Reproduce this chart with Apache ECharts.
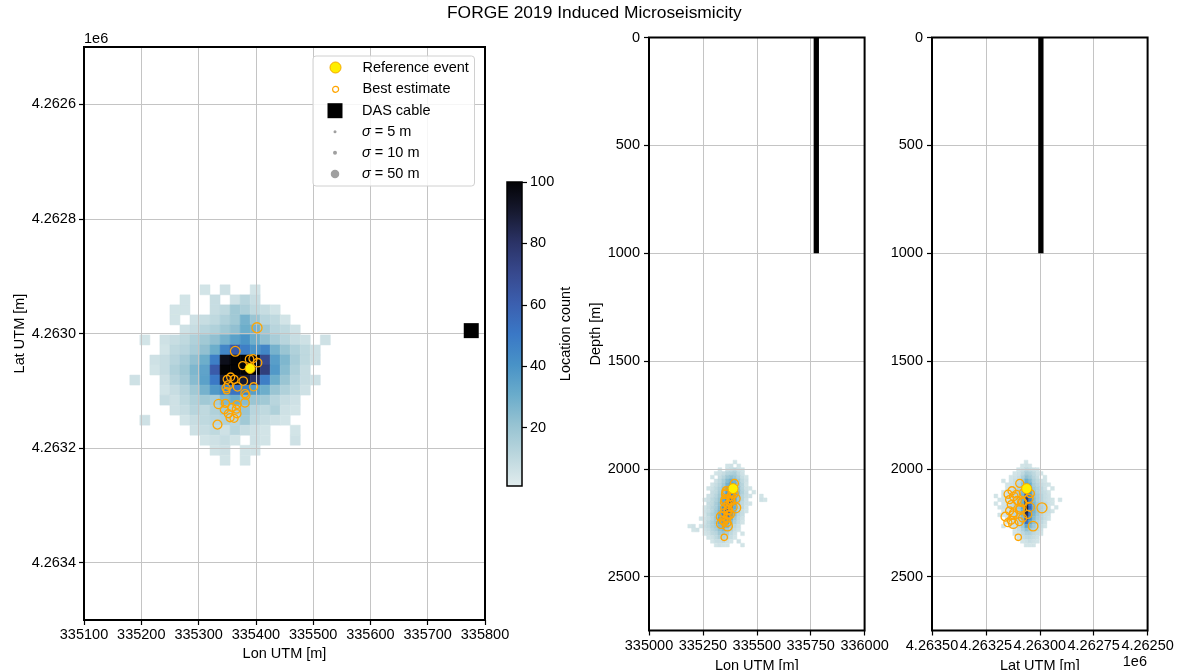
<!DOCTYPE html>
<html>
<head>
<meta charset="utf-8">
<title>FORGE 2019 Induced Microseismicity</title>
<script src="https://cdn.jsdelivr.net/npm/echarts@6/dist/echarts.min.js"></script>
<style>
  html, body { margin: 0; padding: 0; background: #ffffff; }
  #chart { width: 1179px; height: 670px; }
</style>
</head>
<body>
<div id="chart"></div>
<script>
// ---------------------------------------------------------------------------
// Data
// ---------------------------------------------------------------------------
const FONT = '"Liberation Sans", Arial, Helvetica, sans-serif';

// colour scale for location counts: pale -> blue -> black
const cmapColors = ['#e1eced', '#bcd7de', '#97c3d2', '#6aaccb', '#4892c7', '#3a78c6',
                    '#3b5faf', '#37498e', '#2b3367', '#171a31', '#030305'];
const countRange = [1, 100];
const colorbarTicks = [20, 40, 60, 80, 100];

// histogram bin size [m]
const binSize = 17.5;

// plan view (lon / lat) location counts; rows step in latitude, columns in longitude
const planLon0 = 335180;
const planLat0 = 4262915;
const planCounts = [
  [0,0,0,0,0,0,0,5,0,6,0,0,5,0,0,0,0,0,0,0],
  [0,0,0,0,0,5,0,0,8,0,6,12,8,0,0,0,0,0,0,0],
  [0,0,0,0,5,5,0,0,8,10,18,15,10,8,5,0,0,0,0,0],
  [0,0,0,0,5,0,6,8,10,14,18,28,20,12,10,5,0,0,0,0],
  [0,0,0,0,0,6,8,12,14,18,22,30,28,18,12,10,6,0,0,0],
  [0,5,0,6,8,10,14,18,22,28,35,40,30,22,16,12,8,6,0,6],
  [0,0,0,5,10,12,16,22,30,45,62,48,40,45,28,20,14,10,6,0],
  [0,0,6,8,12,16,22,30,48,95,100,100,98,70,36,26,16,10,6,0],
  [0,0,5,8,14,18,26,34,62,100,100,100,100,75,38,24,14,8,0,0],
  [6,0,0,6,12,16,24,35,50,92,96,90,80,48,30,20,12,8,6,0],
  [0,0,0,5,8,12,18,28,38,45,52,46,36,30,20,14,10,6,0,0],
  [0,0,0,8,6,10,14,18,16,26,30,24,20,18,12,8,6,0,0,0],
  [0,0,0,0,6,8,12,10,14,18,16,20,12,10,14,6,5,0,0,0],
  [0,6,0,0,0,5,8,10,12,14,12,18,10,8,6,5,0,0,0,0],
  [0,0,0,0,0,0,6,8,10,6,12,8,6,5,0,0,5,0,0,0],
  [0,0,0,0,0,0,0,5,6,8,5,0,6,5,0,0,6,0,0,0],
  [0,0,0,0,0,0,0,0,5,6,0,5,5,0,0,0,0,0,0,0],
  [0,0,0,0,0,0,0,0,0,5,0,5,0,0,0,0,0,0,0,0]
];

// depth sections: rows step in depth
const depth0 = 1960;

// lon / depth location counts; columns step in longitude
const sideLon0 = 335180;
const lonDepthCounts = [
  [0,0,0,0,0,0,0,0,0,0,0,0,5,0,0,0,0,0,0,0,0],
  [0,0,0,0,0,0,0,0,0,0,5,6,0,5,0,0,0,0,0,0,0],
  [0,0,0,0,0,0,0,0,5,0,6,8,10,6,5,0,0,0,0,0,0],
  [0,0,0,0,0,0,0,5,6,8,12,14,16,10,6,0,0,0,0,0,0],
  [0,0,0,0,0,0,5,0,8,12,18,22,20,14,8,5,0,0,0,0,0],
  [0,0,0,0,0,0,0,6,10,16,24,30,28,18,10,6,0,0,0,0,0],
  [0,0,0,0,0,0,5,8,12,18,28,36,32,20,12,5,0,0,0,0,0],
  [0,0,0,0,0,5,6,10,14,22,32,40,36,22,12,6,5,0,0,0,0],
  [0,0,0,0,0,0,8,10,16,24,36,44,38,24,14,8,0,5,0,0,0],
  [0,0,0,0,0,6,8,12,18,28,40,48,36,22,12,8,6,0,0,5,0],
  [0,0,0,0,5,6,10,14,20,32,48,56,38,20,12,6,0,0,0,6,5],
  [0,0,0,0,0,8,10,16,22,36,52,66,34,18,10,6,5,0,0,0,0],
  [0,0,0,0,5,8,12,16,24,40,58,72,30,16,10,5,0,0,0,0,0],
  [0,0,0,0,6,8,12,18,26,44,70,52,28,14,8,5,0,0,0,0,0],
  [0,0,0,0,5,10,14,18,30,46,64,40,24,12,8,0,0,0,0,0,0],
  [0,0,0,5,6,8,12,20,32,50,48,32,18,10,6,0,0,0,0,0,0],
  [0,0,0,0,6,10,14,20,30,40,36,24,14,8,5,0,0,0,0,0,0],
  [5,6,0,5,8,10,14,18,26,32,28,18,10,6,0,0,0,0,0,0,0],
  [0,5,6,0,6,8,12,16,22,26,20,14,8,5,0,0,0,0,0,0,0],
  [0,0,0,0,5,6,10,12,18,20,16,10,6,0,5,0,0,0,0,0,0],
  [0,0,0,0,0,5,6,10,14,14,12,8,5,0,0,0,0,0,0,0,0],
  [0,0,0,0,0,0,5,8,8,10,6,5,0,6,0,0,0,0,0,0,0],
  [0,0,0,0,0,0,0,5,6,5,5,0,0,0,5,0,0,0,0,0,0]
];

// lat / depth location counts; columns step in latitude
const sideLat0 = 4262880;
const latDepthCounts = [
  [0,0,0,0,0,0,0,0,0,0,5,0,0,0,0,0,0,0,0,0,0],
  [0,0,0,0,0,0,0,0,0,5,6,5,0,0,0,0,0,0,0,0,0],
  [0,0,0,0,0,0,0,5,6,8,10,6,5,0,0,0,0,0,0,0,0],
  [0,0,0,0,0,0,5,6,10,14,16,10,6,5,0,0,0,0,0,0,0],
  [0,0,0,0,0,5,0,8,12,18,22,14,8,6,5,0,0,0,0,0,0],
  [0,0,0,0,0,5,6,10,14,24,30,18,10,8,5,0,5,0,0,0,0],
  [0,0,0,0,5,6,8,12,16,30,38,22,12,8,6,5,0,0,0,0,0],
  [0,0,0,5,0,6,10,14,18,34,48,24,14,10,6,5,0,0,0,0,0],
  [0,0,0,0,5,8,10,14,20,38,58,26,16,10,8,6,5,0,0,0,0],
  [0,0,0,0,6,8,12,16,22,44,70,28,16,12,8,6,5,0,5,0,0],
  [0,5,0,5,6,8,12,16,24,48,80,30,18,12,8,6,5,5,0,0,0],
  [0,0,0,5,6,10,12,18,26,52,86,30,18,12,10,6,5,0,5,0,0],
  [0,0,5,0,6,10,14,18,28,54,90,32,20,14,10,8,6,5,0,0,0],
  [0,0,0,5,8,10,14,20,28,52,88,30,18,12,10,6,5,0,0,0,0],
  [0,0,0,0,6,8,12,18,26,48,82,28,16,12,8,6,5,5,0,0,0],
  [0,0,0,0,5,8,12,16,24,42,72,26,14,10,8,5,0,0,0,0,0],
  [0,0,0,0,0,6,10,14,22,34,54,22,12,8,6,5,0,0,0,0,0],
  [0,0,0,0,0,5,8,12,18,26,34,18,10,6,5,0,5,0,0,0,0],
  [0,0,0,0,0,0,6,10,14,18,22,14,8,5,0,0,0,0,0,0,0],
  [0,0,0,0,0,0,5,8,10,14,14,10,6,5,0,0,0,0,0,0,0],
  [0,0,0,0,0,0,0,6,8,10,10,8,5,0,0,0,0,0,0,0,0],
  [0,0,0,0,0,0,0,5,6,8,6,5,0,0,0,0,0,0,0,0,0],
  [0,0,0,0,0,0,0,0,5,5,5,0,0,0,0,0,0,0,0,0,0]
];

// reference event
const refLon = 335390, refLat = 4263061, refDepth = 2092;

// best-estimate locations and their uncertainty sigma [m]
const estLon   = [335402,335364,335389,335395,335403,335377,335356,335350,335362,335378,
                  335368,335352,335349,335396,335381,335383,335335,335347,335367,335381,
                  335345,335358,335366,335352,335367,335355,335362,335333,335348];
const estLat   = [4262990,4263031,4263045,4263044,4263051,4263056,4263076,4263080,4263080,4263083,
                  4263093,4263090,4263100,4263093,4263105,4263108,4263123,4263122,4263124,4263121,
                  4263133,4263129,4263132,4263140,4263140,4263147,4263148,4263159,4263095];
const estDepth = [2181,2266,2178,2115,2138,2212,2112,2155,2228,2155,
                  2190,2182,2318,2068,2147,2118,2255,2205,2214,2128,
                  2238,2102,2166,2143,2195,2118,2250,2222,2245];
const estSigma = [70,65,50,45,50,45,45,45,45,50,
                  50,50,28,45,45,40,60,45,45,50,
                  45,45,45,45,45,45,45,55,45];

// DAS cable (vertical well section)
const dasLon = 335776, dasLat = 4262995, dasTop = 0, dasBottom = 1000;

// legend reference sigmas [m]
const legendSigmas = [5, 10, 50];

// axis ticks
const planLatTicks = [4262600, 4262800, 4263000, 4263200, 4263400];
const depthTicks = [0, 500, 1000, 1500, 2000, 2500];

// ---------------------------------------------------------------------------
// Helpers
// ---------------------------------------------------------------------------
function sigmaToSize(s) { return 1.2 * Math.sqrt(s); }
const plain = v => String(v);

function buildCells(counts, x0, y0) {
  const out = [];
  counts.forEach((row, r) => row.forEach((v, c) => {
    if (v > 0) out.push([x0 + c * binSize, y0 + r * binSize, v]);
  }));
  return out;
}

function renderCell(params, api) {
  const x = api.value(0), y = api.value(1);
  const a = api.coord([x, y]);
  const b = api.coord([x + binSize, y + binSize]);
  const color = api.visual('color');
  return {
    type: 'rect',
    shape: {
      x: Math.min(a[0], b[0]), y: Math.min(a[1], b[1]),
      width: Math.abs(b[0] - a[0]), height: Math.abs(b[1] - a[1])
    },
    style: { fill: color, stroke: color, lineWidth: 0.5 }
  };
}

function renderColorbar(params, api) {
  const a = api.coord([0, api.value(1)]);
  const b = api.coord([1, api.value(2)]);
  const stops = cmapColors.map((c, i) => ({ offset: i / (cmapColors.length - 1), color: c }));
  return {
    type: 'rect',
    shape: { x: a[0], y: b[1], width: b[0] - a[0], height: a[1] - b[1] },
    style: { fill: new echarts.graphic.LinearGradient(0, 1, 0, 0, stops) }
  };
}

const textBase = { fontFamily: FONT, fontSize: 14.5, color: '#000' };
const tickStyle = { show: true, inside: false, length: 5, lineStyle: { color: '#000', width: 1.2 } };
const noLine = { show: false, onZero: false };
const gridLineStyle = { show: true, lineStyle: { color: '#c4c4c4', width: 1 } };

const estPlan = estLon.map((v, i) => [v, estLat[i], estSigma[i]]);
const estLonDepth = estLon.map((v, i) => [v, estDepth[i], estSigma[i]]);
const estLatDepth = estLat.map((v, i) => [v, estDepth[i], estSigma[i]]);

const estStyle = { color: 'rgba(0,0,0,0)', borderColor: '#ffa500', borderWidth: 1.3, opacity: 1 };
const refStyle = { color: '#ffee00', borderColor: '#f5a800', borderWidth: 1, opacity: 1 };

function estSeries(x, y, data) {
  return {
    name: 'Best estimate', type: 'scatter', xAxisIndex: x, yAxisIndex: y, z: 4,
    data: data, symbol: 'circle', symbolSize: v => sigmaToSize(v[2]),
    itemStyle: estStyle, emphasis: { disabled: true }, silent: true
  };
}
function refSeries(x, y, point) {
  return {
    name: 'Reference event', type: 'scatter', xAxisIndex: x, yAxisIndex: y, z: 5,
    data: [point], symbol: 'circle', symbolSize: 10,
    itemStyle: refStyle, emphasis: { disabled: true }, silent: true
  };
}
function dasLine(x, y, pos) {
  return {
    name: 'DAS cable', type: 'line', xAxisIndex: x, yAxisIndex: y, z: 4,
    data: [[pos, dasTop], [pos, dasBottom]], symbol: 'none',
    lineStyle: { color: '#000', width: 5.3, cap: 'butt' }, silent: true
  };
}
function heatSeries(x, y, data) {
  return {
    type: 'custom', xAxisIndex: x, yAxisIndex: y, z: 2, clip: true,
    renderItem: renderCell, data: data, encode: { x: 0, y: 1 }, silent: true
  };
}

// legend rows: icons centred on a common column, labels start on a common column
const legendIconX = 335;
function legendEntry(name, icon, style, size, top, extra) {
  return Object.assign({
    data: [{ name: name, icon: icon, itemStyle: style }],
    orient: 'vertical', left: legendIconX - size / 2, top: top, padding: 0,
    itemWidth: 44, itemHeight: size, symbolKeepAspect: true,
    selectedMode: false, z: 11,
    textStyle: Object.assign({ lineHeight: 17,
      rich: { i: { fontFamily: FONT, fontSize: 14.5, fontStyle: 'italic', color: '#000', lineHeight: 17 } }
    }, textBase),
    formatter: n => n.replace('σ', '{i|σ}')
  }, extra || {});
}

const sigmaNames = legendSigmas.map(s => 'σ = ' + s + ' m');
const sigmaRows = [123.2, 144.2, 165.5];
const sigmaColor = { color: '#a0a0a0', opacity: 1 };

// panel frames sit above grid lines, like plot spines
function panel(left, top, width, height, borderWidth) {
  return { left: left, top: top, width: width, height: height, show: true,
           borderColor: '#000', borderWidth: borderWidth, z: 6,
           outerBoundsMode: 'none', containLabel: false };
}

// ---------------------------------------------------------------------------
// Chart
// ---------------------------------------------------------------------------
const chart = echarts.init(document.getElementById('chart'));

const option = {
  animation: false,
  backgroundColor: '#ffffff',
  title: [
    { text: 'FORGE 2019 Induced Microseismicity', left: 447, top: 5, padding: 0,
      textStyle: { fontFamily: FONT, fontSize: 17.4, fontWeight: 'normal', color: '#000' } },
    { text: '1e6', left: 84, top: 31, padding: 0,
      textStyle: Object.assign({ fontWeight: 'normal' }, textBase) },
    { text: '1e6', right: 32, top: 654, padding: 0,
      textStyle: Object.assign({ fontWeight: 'normal' }, textBase) }
  ],
  visualMap: {
    type: 'continuous', show: false, min: countRange[0], max: countRange[1],
    dimension: 2, seriesIndex: [0, 1, 2], inRange: { color: cmapColors }
  },
  legend: [
    legendEntry('Reference event', 'circle', refStyle, 11, 56, {
      left: 313, padding: [3, 5.6, 110, legendIconX - 5.5 - 313], z: 10,
      backgroundColor: 'rgba(255,255,255,0.85)', borderColor: '#d0d0d0',
      borderWidth: 1, borderRadius: 3
    }),
    legendEntry('Best estimate', 'circle', { color: 'rgba(0,0,0,0)', borderColor: '#ffa500', borderWidth: 1.2 }, 6, 80.8),
    legendEntry('DAS cable', 'path://M0 0H10V10H0Z', { color: '#000', opacity: 1 }, 15, 102.2),
    legendEntry(sigmaNames[0], 'circle', sigmaColor, 3, sigmaRows[0]),
    legendEntry(sigmaNames[1], 'circle', sigmaColor, 4, sigmaRows[1]),
    legendEntry(sigmaNames[2], 'circle', sigmaColor, sigmaToSize(legendSigmas[2]), sigmaRows[2])
  ],
  grid: [
    panel(84, 47, 401, 573, 2),
    panel(507, 182, 15, 304, 1.5),
    panel(649, 37.5, 215.6, 593, 2),
    panel(932, 37.5, 215.6, 593, 2)
  ],
  xAxis: [
    { type: 'value', gridIndex: 0, z: 3, min: 335100, max: 335800, interval: 100,
      axisLine: noLine, axisTick: tickStyle, splitLine: gridLineStyle,
      axisLabel: Object.assign({ margin: 7, formatter: plain }, textBase),
      name: 'Lon UTM [m]', nameLocation: 'middle', nameGap: 26, nameTextStyle: textBase },
    { type: 'value', gridIndex: 1, min: 0, max: 1, show: false, axisLine: noLine },
    { type: 'value', gridIndex: 2, z: 3, min: 335000, max: 336000, interval: 250,
      axisLine: noLine, axisTick: tickStyle, splitLine: gridLineStyle,
      axisLabel: Object.assign({ margin: 8, formatter: plain }, textBase),
      name: 'Lon UTM [m]', nameLocation: 'middle', nameGap: 26, nameTextStyle: textBase },
    { type: 'value', gridIndex: 3, z: 3, min: 4262500, max: 4263500, interval: 250, inverse: true,
      axisLine: noLine, axisTick: tickStyle, splitLine: gridLineStyle,
      axisLabel: Object.assign({ margin: 8, formatter: v => (v / 1e6).toFixed(5) }, textBase),
      name: 'Lat UTM [m]', nameLocation: 'middle', nameGap: 25, nameTextStyle: textBase }
  ],
  yAxis: [
    { type: 'value', gridIndex: 0, z: 3, min: 4262500, max: 4263500, inverse: true,
      axisLine: noLine,
      axisTick: Object.assign({ customValues: planLatTicks }, tickStyle),
      splitLine: gridLineStyle,
      axisLabel: Object.assign({ margin: 8, customValues: planLatTicks,
        formatter: v => (v / 1e6).toFixed(4) }, textBase),
      name: 'Lat UTM [m]', nameLocation: 'middle', nameGap: 57, nameTextStyle: textBase },
    { type: 'value', gridIndex: 1, z: 7, min: countRange[0], max: countRange[1], position: 'right',
      axisLine: noLine,
      axisTick: Object.assign({ customValues: colorbarTicks }, tickStyle),
      splitLine: { show: false },
      axisLabel: Object.assign({ margin: 8, customValues: colorbarTicks, formatter: plain }, textBase),
      name: 'Location count', nameLocation: 'middle', nameRotate: 90, nameGap: 36, nameTextStyle: textBase },
    { type: 'value', gridIndex: 2, z: 3, min: 0, max: 2750, inverse: true,
      axisLine: noLine,
      axisTick: Object.assign({ customValues: depthTicks }, tickStyle),
      splitLine: gridLineStyle,
      axisLabel: Object.assign({ margin: 9, customValues: depthTicks, formatter: plain }, textBase),
      name: 'Depth [m]', nameLocation: 'middle', nameGap: 44, nameTextStyle: textBase },
    { type: 'value', gridIndex: 3, z: 3, min: 0, max: 2750, inverse: true,
      axisLine: noLine,
      axisTick: Object.assign({ customValues: depthTicks }, tickStyle),
      splitLine: gridLineStyle,
      axisLabel: Object.assign({ margin: 9, customValues: depthTicks, formatter: plain }, textBase) }
  ],
  series: [
    heatSeries(0, 0, buildCells(planCounts, planLon0, planLat0)),
    heatSeries(2, 2, buildCells(lonDepthCounts, sideLon0, depth0)),
    heatSeries(3, 3, buildCells(latDepthCounts, sideLat0, depth0)),
    { type: 'custom', xAxisIndex: 1, yAxisIndex: 1, z: 2, silent: true,
      renderItem: renderColorbar, data: [[0, countRange[0], countRange[1]]] },
    { name: 'DAS cable', type: 'scatter', xAxisIndex: 0, yAxisIndex: 0, z: 4,
      data: [[dasLon, dasLat]], symbol: 'rect', symbolSize: 15,
      itemStyle: { color: '#000', opacity: 1 }, silent: true },
    dasLine(2, 2, dasLon),
    dasLine(3, 3, dasLat),
    estSeries(0, 0, estPlan),
    estSeries(2, 2, estLonDepth),
    estSeries(3, 3, estLatDepth),
    refSeries(0, 0, [refLon, refLat]),
    refSeries(2, 2, [refLon, refDepth]),
    refSeries(3, 3, [refLat, refDepth]),
    { name: sigmaNames[0], type: 'scatter', data: [], itemStyle: sigmaColor },
    { name: sigmaNames[1], type: 'scatter', data: [], itemStyle: sigmaColor },
    { name: sigmaNames[2], type: 'scatter', data: [], itemStyle: sigmaColor }
  ]
};

chart.setOption(option);
</script>
</body>
</html>
